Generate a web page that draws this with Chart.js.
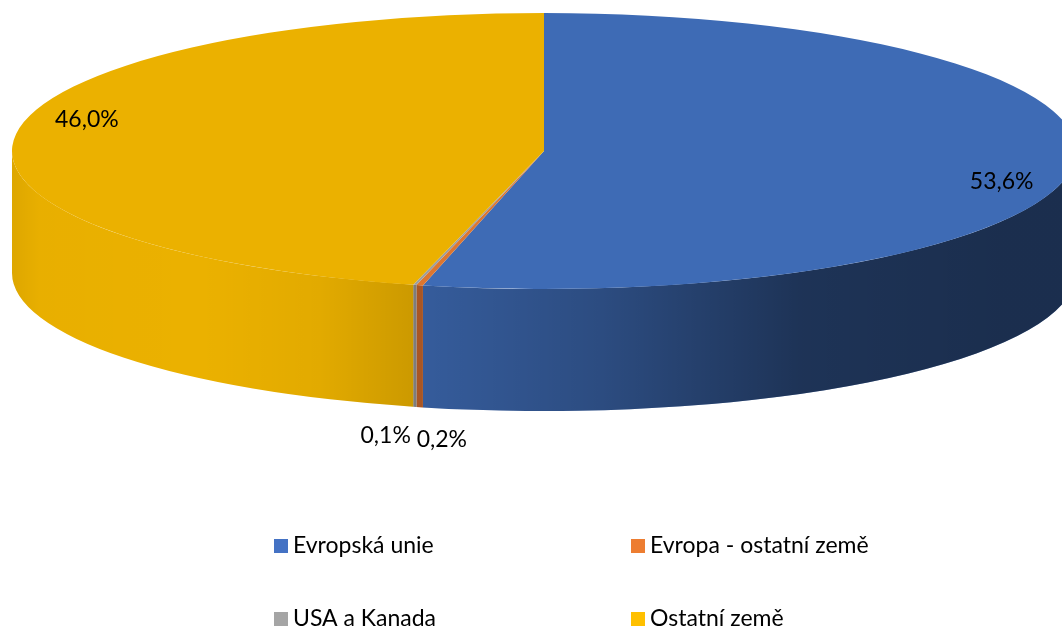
<!DOCTYPE html>
<html lang="cs">
<head>
<meta charset="utf-8">
<title>Podíl podle oblastí</title>
<script src="https://cdn.jsdelivr.net/npm/chart.js@4/dist/chart.umd.min.js"></script>
<style>
    html, body { margin: 0; padding: 0; background: #fff; }
    #wrap { width: 1062px; height: 628px; position: relative; }
</style>
</head>
<body>
<div id="wrap"><canvas id="myChart"></canvas></div>
<script>
// regions and their shares in percent
const categories = ['Evropská unie', 'Evropa - ostatní země', 'USA a Kanada', 'Ostatní země'];
const shares = [53.6, 0.2, 0.1, 46.0];
const topColors = ['#3e6bb5', '#dc7630', '#9e9e9e', '#ebb100'];
const sideColors = ['#3e6bb5', '#c4642a', '#909090', '#ebb100'];
const legendColors = ['#4472c4', '#ed7d31', '#a5a5a5', '#ffc000'];

// 3D disc geometry
const CX = 544, CY = 151;
const RX = 532, RY = 138;
const DEPTH = 122;
const LABEL_RY = 300;
const FONT = '23px Lato, "Open Sans", sans-serif';

function fmt(v) {
    return v.toFixed(1).replace('.', ',') + '%';
}

const pie3d = {
    id: 'pie3d',
    beforeDatasetsDraw(chart) {
        const ctx = chart.ctx;
        const arcs = chart.getDatasetMeta(0).data;
        const w = chart.width;

        // shading across the rim, darker towards the right
        const shade = ctx.createLinearGradient(0, 0, w, 0);
        shade.addColorStop(0, 'rgba(0,0,0,0.08)');
        shade.addColorStop(40 / w, 'rgba(0,0,0,0.01)');
        shade.addColorStop(200 / w, 'rgba(0,0,0,0)');
        shade.addColorStop(320 / w, 'rgba(0,0,0,0.04)');
        shade.addColorStop(410 / w, 'rgba(0,0,0,0.13)');
        shade.addColorStop(430 / w, 'rgba(0,0,0,0.15)');
        shade.addColorStop(600 / w, 'rgba(0,0,0,0.29)');
        shade.addColorStop(800 / w, 'rgba(0,0,0,0.52)');
        shade.addColorStop(1000 / w, 'rgba(0,0,0,0.57)');
        shade.addColorStop(1, 'rgba(0,0,0,0.57)');

        arcs.forEach((arc, i) => {
            const s = Math.max(arc.startAngle, 0);
            const e = Math.min(arc.endAngle, Math.PI);
            if (e <= s) return;
            ctx.beginPath();
            ctx.ellipse(CX, CY, RX, RY, 0, s, e);
            ctx.ellipse(CX, CY + DEPTH, RX, RY, 0, e, s, true);
            ctx.closePath();
            ctx.fillStyle = sideColors[i];
            ctx.fill();
            ctx.fillStyle = shade;
            ctx.fill();
        });

        // squash the pie into the top face of the disc
        const first = arcs[0];
        ctx.save();
        ctx.translate(CX, CY);
        ctx.scale(RX / first.outerRadius, RY / first.outerRadius);
        ctx.translate(-first.x, -first.y);
    },
    afterDatasetsDraw(chart) {
        const ctx = chart.ctx;
        ctx.restore();

        const arcs = chart.getDatasetMeta(0).data;
        ctx.save();
        ctx.font = FONT;
        ctx.fillStyle = '#000';
        ctx.textBaseline = 'alphabetic';
        let side = 0;
        arcs.forEach((arc, i) => {
            const mid = (arc.startAngle + arc.endAngle) / 2;
            const text = fmt(shares[i]);
            if (shares[i] >= 1) {
                const x = CX + RX * Math.cos(mid) * 0.866;
                const y = CY + LABEL_RY * Math.sin(mid) * 0.866;
                ctx.textAlign = 'center';
                ctx.fillText(text, x, y + 8);
            } else {
                // tiny slices get their labels under the rim, one each side
                const ax = CX + RX * Math.cos(mid);
                const bottom = CY + RY * Math.sin(mid) + DEPTH;
                if (side % 2 === 0) {
                    ctx.textAlign = 'left';
                    ctx.fillText(text, ax - 3, bottom + 40);
                } else {
                    ctx.textAlign = 'right';
                    ctx.fillText(text, ax - 4, bottom + 36);
                }
                side++;
            }
        });

        // legend, two columns
        ctx.textAlign = 'left';
        categories.forEach((name, i) => {
            const x = 274 + (i % 2) * 357;
            const y = 553 + Math.floor(i / 2) * 73;
            ctx.fillStyle = legendColors[i];
            ctx.fillRect(x, y - 14, 14, 14);
            ctx.fillStyle = '#000';
            ctx.fillText(name, x + 19, y);
        });
        ctx.restore();
    }
};

const ctx = document.getElementById('myChart').getContext('2d');
const chart = new Chart(ctx, {
    type: 'pie',
    data: {
        labels: categories,
        datasets: [{
            data: shares,
            backgroundColor: topColors,
            borderWidth: 0,
            clip: false
        }]
    },
    options: {
        responsive: true,
        maintainAspectRatio: false,
        animation: false,
        events: [],
        plugins: {
            legend: { display: false },
            tooltip: { enabled: false }
        }
    },
    plugins: [pie3d]
});
</script>
</body>
</html>
